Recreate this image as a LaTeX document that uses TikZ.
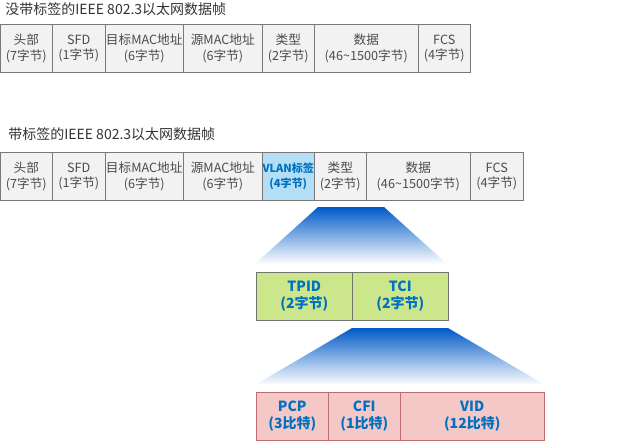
\documentclass[tikz,border=0pt]{standalone}
\usepackage{fontspec}
\setmainfont{Noto Sans CJK SC}
\usetikzlibrary{positioning}
\definecolor{cellgray}{RGB}{242,242,242}
\definecolor{edgegray}{RGB}{120,120,120}
\definecolor{vlanblue}{RGB}{179,222,245}
\definecolor{textblue}{RGB}{0,112,192}
\definecolor{tcigreen}{RGB}{204,230,140}
\definecolor{bitpink}{RGB}{245,200,200}
\definecolor{bitedge}{RGB}{190,110,110}
\definecolor{shadeblue}{RGB}{0,90,200}
\tikzset{
  cell/.style={draw=edgegray,fill=cellgray,anchor=north west,inner sep=0pt,
    minimum height=36pt,align=center,font=\fontsize{9.5}{11.5}\selectfont,text=black!70},
  bluecell/.style={cell,fill=vlanblue,draw=edgegray,text=textblue,font=\fontsize{8.3}{11.5}\selectfont\bfseries},
  tcicell/.style={cell,fill=tcigreen,draw=black!55,text=textblue,font=\fontsize{10.5}{13}\selectfont\bfseries},
  bitcell/.style={cell,fill=bitpink,draw=bitedge,text=textblue,font=\fontsize{10.5}{13}\selectfont\bfseries},
  title/.style={anchor=west,inner sep=0.75pt,font=\fontsize{10.5}{12}\selectfont,text=black!80}
}
\begin{document}
\begin{tikzpicture}[x=0.75pt,y=0.75pt,yscale=-1,xscale=1]
  \useasboundingbox (0,0) rectangle (640,440);

  % untagged frame
  \node[title] (t1) at (4,9) {没带标签的IEEE 802.3以太网数据帧};
  \node[cell,minimum width=39pt] (a1) at (0,24) {头部\\(7字节)};
  \node[cell,minimum width=39.75pt] (a2) at (52,24) {SFD\\(1字节)};
  \node[cell,minimum width=58.5pt] (a3) at (105,24) {目标MAC地址\\(6字节)};
  \node[cell,minimum width=59.25pt] (a4) at (183,24) {源MAC地址\\(6字节)};
  \node[cell,minimum width=39pt] (a5) at (262,24) {类型\\(2字节)};
  \node[cell,minimum width=78pt] (a6) at (314,24) {数据\\(46\textasciitilde1500字节)};
  \node[cell,minimum width=39pt] (a7) at (418,24) {FCS\\(4字节)};

  % tagged frame
  \node[title] (t2) at (7,134) {带标签的IEEE 802.3以太网数据帧};
  \node[cell,minimum width=39pt] (b1) at (0,152) {头部\\(7字节)};
  \node[cell,minimum width=39.75pt] (b2) at (52,152) {SFD\\(1字节)};
  \node[cell,minimum width=58.5pt] (b3) at (105,152) {目标MAC地址\\(6字节)};
  \node[cell,minimum width=59.25pt] (b4) at (183,152) {源MAC地址\\(6字节)};
  \node[bluecell,minimum width=39pt] (b5) at (262,152) {VLAN标签\\(4字节)};
  \node[cell,minimum width=39pt] (b6) at (314,152) {类型\\(2字节)};
  \node[cell,minimum width=78pt] (b7) at (366,152) {数据\\(46\textasciitilde1500字节)};
  \node[cell,minimum width=39.75pt] (b8) at (470,152) {FCS\\(4字节)};

  % expansion shades
  \shade[top color=shadeblue,bottom color=white] (318,207) -- (384,207) -- (447,264) -- (255,264) -- cycle;
  \node[tcicell,minimum width=72pt] (c1) at (256,272) {TPID\\(2字节)};
  \node[tcicell,minimum width=72pt] (c2) at (352,272) {TCI\\(2字节)};

  \shade[top color=shadeblue,bottom color=white] (352,328) -- (448,328) -- (545,385) -- (255,385) -- cycle;
  \node[bitcell,minimum width=54pt] (d1) at (256,392) {PCP\\(3比特)};
  \node[bitcell,minimum width=54pt] (d2) at (328,392) {CFI\\(1比特)};
  \node[bitcell,minimum width=108pt] (d3) at (400,392) {VID\\(12比特)};
\end{tikzpicture}
\end{document}
